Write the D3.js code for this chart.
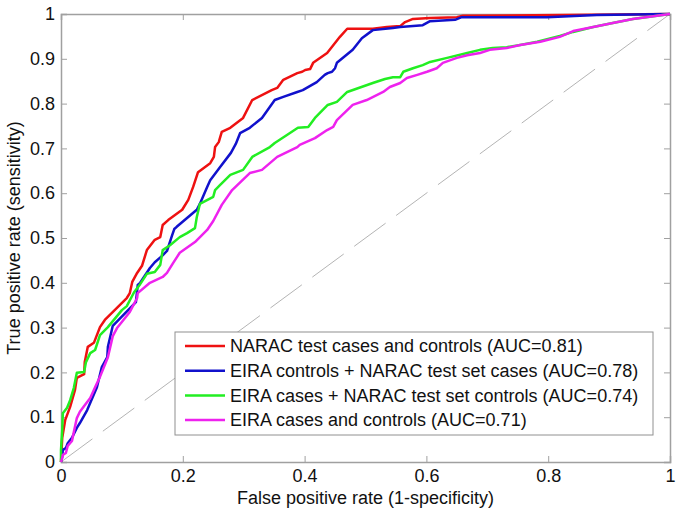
<!DOCTYPE html>
<html>
<head>
<meta charset="utf-8">
<script src="https://cdn.jsdelivr.net/npm/d3@7"></script>
<style>
  body { margin: 0; background: #fff; }
  svg { display: block; font-family: "Liberation Sans", Arial, sans-serif; }
</style>
</head>
<body>
<div id="chart"></div>
<script>
// ROC curves, [false positive rate, true positive rate]
const naracRoc = [
  [0, 0], [0.002, 0.054], [0.007, 0.094], [0.015, 0.123], [0.023, 0.161], [0.026, 0.188],
  [0.038, 0.196], [0.039, 0.223], [0.044, 0.257], [0.054, 0.266], [0.064, 0.301], [0.072, 0.317],
  [0.108, 0.366], [0.113, 0.377], [0.117, 0.402], [0.125, 0.422], [0.133, 0.438], [0.141, 0.473],
  [0.154, 0.496], [0.163, 0.502], [0.167, 0.529], [0.176, 0.540], [0.199, 0.563], [0.209, 0.585],
  [0.217, 0.614], [0.225, 0.647], [0.245, 0.667], [0.251, 0.681], [0.253, 0.703], [0.259, 0.714],
  [0.264, 0.737], [0.278, 0.746], [0.299, 0.768], [0.314, 0.808], [0.346, 0.830], [0.355, 0.835],
  [0.365, 0.853], [0.388, 0.868], [0.396, 0.871], [0.401, 0.875], [0.409, 0.877], [0.414, 0.891],
  [0.437, 0.913], [0.458, 0.949], [0.470, 0.967], [0.512, 0.967], [0.535, 0.971], [0.557, 0.973],
  [0.565, 0.982], [0.578, 0.989], [0.606, 0.991], [0.650, 0.993], [0.660, 0.996], [1, 1]
];
const eiraCtrlNaracCases = [
  [0, 0], [0.002, 0.011], [0.003, 0.027], [0.008, 0.031], [0.011, 0.042], [0.018, 0.054],
  [0.026, 0.076], [0.031, 0.087], [0.043, 0.116], [0.059, 0.167], [0.067, 0.212], [0.076, 0.234],
  [0.077, 0.257], [0.085, 0.304], [0.123, 0.357], [0.126, 0.395], [0.130, 0.400], [0.146, 0.433],
  [0.154, 0.446], [0.166, 0.460], [0.174, 0.471], [0.182, 0.504], [0.186, 0.520], [0.190, 0.525],
  [0.223, 0.563], [0.228, 0.576], [0.240, 0.614], [0.245, 0.629], [0.261, 0.658], [0.279, 0.690],
  [0.287, 0.710], [0.294, 0.734], [0.310, 0.746], [0.330, 0.768], [0.351, 0.808], [0.365, 0.815],
  [0.388, 0.826], [0.397, 0.830], [0.420, 0.848], [0.433, 0.864], [0.438, 0.868], [0.445, 0.871],
  [0.450, 0.879], [0.453, 0.891], [0.479, 0.920], [0.494, 0.946], [0.512, 0.964], [0.545, 0.969],
  [0.557, 0.971], [0.594, 0.975], [0.606, 0.984], [0.647, 0.987], [0.658, 0.993], [0.798, 0.993],
  [0.852, 0.996], [0.880, 0.998], [1, 1]
];
const eiraCasesNaracCtrl = [
  [0, 0], [0, 0.027], [0.002, 0.071], [0.003, 0.109], [0.010, 0.121], [0.015, 0.138],
  [0.021, 0.165], [0.026, 0.199], [0.038, 0.201], [0.041, 0.223], [0.048, 0.243], [0.056, 0.250],
  [0.064, 0.283], [0.077, 0.301], [0.100, 0.339], [0.108, 0.348], [0.120, 0.379], [0.130, 0.397],
  [0.141, 0.420], [0.154, 0.424], [0.163, 0.440], [0.167, 0.473], [0.179, 0.484], [0.195, 0.502],
  [0.207, 0.511], [0.220, 0.522], [0.223, 0.547], [0.228, 0.576], [0.250, 0.592], [0.253, 0.607],
  [0.261, 0.618], [0.278, 0.641], [0.299, 0.652], [0.314, 0.681], [0.343, 0.703], [0.351, 0.712],
  [0.371, 0.730], [0.389, 0.746], [0.406, 0.748], [0.417, 0.768], [0.438, 0.797], [0.453, 0.804],
  [0.470, 0.826], [0.512, 0.846], [0.532, 0.855], [0.545, 0.859], [0.557, 0.859], [0.562, 0.871],
  [0.578, 0.879], [0.594, 0.886], [0.606, 0.893], [0.634, 0.902], [0.667, 0.913], [0.688, 0.920],
  [0.709, 0.924], [0.732, 0.926], [0.754, 0.931], [0.782, 0.938], [0.819, 0.951], [0.841, 0.960],
  [0.874, 0.971], [0.906, 0.980], [0.939, 0.989], [1, 1]
];
const eiraRoc = [
  [0, 0], [0.002, 0.009], [0.003, 0.016], [0.008, 0.020], [0.011, 0.036], [0.018, 0.047],
  [0.020, 0.060], [0.026, 0.098], [0.031, 0.112], [0.038, 0.125], [0.048, 0.143], [0.056, 0.167],
  [0.064, 0.190], [0.077, 0.234], [0.085, 0.281], [0.092, 0.299], [0.113, 0.335], [0.125, 0.366],
  [0.126, 0.377], [0.146, 0.400], [0.167, 0.413], [0.174, 0.422], [0.184, 0.444], [0.195, 0.467],
  [0.220, 0.491], [0.240, 0.518], [0.250, 0.538], [0.264, 0.574], [0.281, 0.607], [0.310, 0.645],
  [0.330, 0.652], [0.355, 0.681], [0.388, 0.703], [0.392, 0.708], [0.417, 0.723], [0.437, 0.741],
  [0.447, 0.748], [0.453, 0.763], [0.479, 0.797], [0.502, 0.808], [0.529, 0.826], [0.540, 0.837],
  [0.557, 0.846], [0.568, 0.857], [0.585, 0.864], [0.601, 0.871], [0.617, 0.879], [0.627, 0.891],
  [0.650, 0.902], [0.667, 0.908], [0.688, 0.913], [0.704, 0.920], [0.732, 0.924], [0.754, 0.931],
  [0.787, 0.938], [0.819, 0.949], [0.841, 0.962], [0.874, 0.971], [0.906, 0.980], [0.939, 0.989],
  [1, 1]
];

const seriesNames = [
  "NARAC test cases and controls (AUC=0.81)",
  "EIRA controls + NARAC test set cases (AUC=0.78)",
  "EIRA cases + NARAC test set controls (AUC=0.74)",
  "EIRA cases and controls (AUC=0.71)"
];
const seriesColors = ["#ee1111", "#1111cc", "#22ee22", "#ee22ee"];
const seriesData = [naracRoc, eiraCtrlNaracCases, eiraCasesNaracCtrl, eiraRoc];

const xTicks = [0, 0.2, 0.4, 0.6, 0.8, 1];
const yTicks = [0, 0.1, 0.2, 0.3, 0.4, 0.5, 0.6, 0.7, 0.8, 0.9, 1];

const width = 685, height = 514;
const margin = { top: 14, right: 15, bottom: 52, left: 61 };
const w = width - margin.left - margin.right;
const h = height - margin.top - margin.bottom;

const svg = d3.select("#chart")
  .append("svg")
  .attr("width", width)
  .attr("height", height)
  .append("g")
  .attr("transform", `translate(${margin.left}, ${margin.top})`);

const x = d3.scaleLinear().domain([0, 1]).range([0, w]);
const y = d3.scaleLinear().domain([0, 1]).range([h, 0]);

const axisColor = "#a0a0a0";
const fmt = d => String(d);

// bottom + left axes with labels, ticks pointing inward
const xAxis = svg.append("g")
  .attr("transform", `translate(0, ${h})`)
  .call(d3.axisBottom(x).tickValues(xTicks).tickFormat(fmt).tickSize(-6).tickPadding(7));
const yAxis = svg.append("g")
  .call(d3.axisLeft(y).tickValues(yTicks).tickFormat(fmt).tickSize(-6).tickPadding(6));
// top + right axes, ticks only
const xTop = svg.append("g")
  .call(d3.axisTop(x).tickValues(xTicks).tickFormat("").tickSize(-6));
const yRight = svg.append("g")
  .attr("transform", `translate(${w}, 0)`)
  .call(d3.axisRight(y).tickValues(yTicks).tickFormat("").tickSize(-6));

[xAxis, yAxis, xTop, yRight].forEach(a => {
  a.selectAll("path").attr("stroke", axisColor).attr("stroke-width", 1.5);
  a.selectAll("line").attr("stroke", axisColor);
  a.selectAll("text").attr("fill", "#111").style("font-size", "18px");
});
xAxis.selectAll("text").attr("dy", "0.71em");

// chance diagonal
svg.append("line")
  .attr("x1", x(0)).attr("y1", y(0))
  .attr("x2", x(1)).attr("y2", y(1))
  .attr("stroke", "#b4b4b4")
  .attr("stroke-width", 1)
  .attr("stroke-dasharray", "39,13");

const line = d3.line()
  .x(d => x(d[0]))
  .y(d => y(d[1]));

svg.selectAll(".roc")
  .data(seriesData)
  .enter()
  .append("path")
  .attr("class", "roc")
  .attr("d", line)
  .attr("fill", "none")
  .attr("stroke", (d, i) => seriesColors[i])
  .attr("stroke-width", 2.5)
  .attr("stroke-linejoin", "round");

// legend
const legend = svg.append("g")
  .attr("transform", `translate(${175 - margin.left}, ${332 - margin.top})`);
legend.append("rect")
  .attr("width", 478)
  .attr("height", 103)
  .attr("fill", "#fff")
  .attr("stroke", "#909090")
  .attr("stroke-width", 1);
const rows = legend.selectAll(".row")
  .data(seriesNames)
  .enter()
  .append("g")
  .attr("transform", (d, i) => `translate(0, ${14 + i * 24.7})`);
rows.append("line")
  .attr("x1", 10).attr("x2", 50)
  .attr("stroke", (d, i) => seriesColors[i])
  .attr("stroke-width", 2.5);
rows.append("text")
  .attr("x", 55)
  .attr("dy", "0.35em")
  .style("font-size", "18px")
  .attr("fill", "#111")
  .text(d => d);

// axis titles
svg.append("text")
  .attr("x", w / 2)
  .attr("y", h + 42)
  .attr("text-anchor", "middle")
  .style("font-size", "18px")
  .attr("fill", "#111")
  .text("False positive rate (1-specificity)");
svg.append("text")
  .attr("transform", `translate(${-41}, ${h / 2}) rotate(-90)`)
  .attr("text-anchor", "middle")
  .style("font-size", "18px")
  .attr("fill", "#111")
  .text("True positive rate (sensitivity)");
</script>
</body>
</html>
